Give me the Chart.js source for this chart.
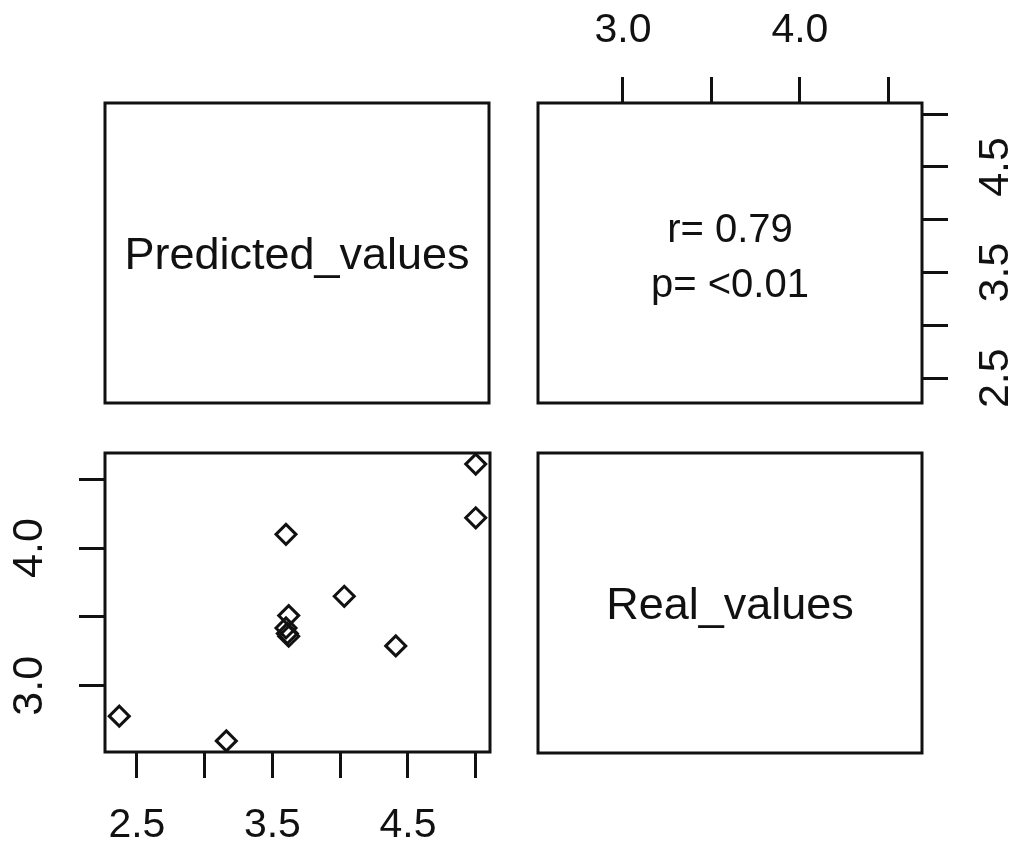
<!DOCTYPE html>
<html>
<head>
<meta charset="utf-8">
<script src="https://cdn.jsdelivr.net/npm/chart.js@4.4.1/dist/chart.umd.min.js"></script>
<style>
html,body{margin:0;padding:0;background:#fff;}
#wrap{position:relative;width:1015px;height:848px;}
#wrap canvas{position:absolute;left:0;top:0;}
</style>
</head>
<body>
<div id="wrap">
<canvas id="c-tl" width="1015" height="848"></canvas>
<canvas id="c-tr" width="1015" height="848"></canvas>
<canvas id="c-bl" width="1015" height="848"></canvas>
<canvas id="c-br" width="1015" height="848"></canvas>
</div>
<script>
// datos (pairs de R)
const predicted=[2.37,3.16,3.60,3.62,3.60,3.61,3.62,4.03,4.41,5.00,5.00]
const real=[2.78,2.60,4.10,3.51,3.42,3.38,3.36,3.65,3.29,4.61,4.22]

const predTicks=[2.5,3.0,3.5,4.0,4.5,5.0]
const predTickLabels=['2.5','','3.5','','4.5','']
const realTicks=[3.0,3.5,4.0,4.5]
const realTickLabels=['3.0','','4.0','']

const diagLabels=['Predicted_values','Real_values']
const corrLines=['r= 0.79','p= <0.01']

const FAMILY="'Liberation Sans', Arial, Helvetica, sans-serif"
Chart.defaults.font.family=FAMILY
Chart.defaults.color='#000'

// rango como R: 4% a cada lado
const padRange=arr=>{
    const lo=Math.min(...arr),hi=Math.max(...arr),d=(hi-lo)*0.04
    return [lo-d,hi+d]
}
const predRange=padRange(predicted)
const realRange=padRange(real)

// caja del panel + texto centrado
const panelPlugin={
    id:'panel',
    afterDraw(chart,args,opts){
        const {ctx,chartArea:a}=chart
        ctx.save()
        ctx.lineWidth=3
        ctx.strokeStyle='#111'
        ctx.strokeRect(a.left,a.top,a.right-a.left,a.bottom-a.top)
        if(opts.lines&&opts.lines.length){
            ctx.fillStyle='#111'
            ctx.font=opts.size+'px '+FAMILY
            ctx.textAlign='center'
            ctx.textBaseline='alphabetic'
            const cx=(a.left+a.right)/2
            const cy=(a.top+a.bottom)/2+(opts.shift||0)
            const n=opts.lines.length
            opts.lines.forEach((t,i)=>{
                const mid=cy+(i-(n-1)/2)*(opts.gap||0)
                ctx.fillText(t,cx,mid+opts.size*0.358)
            })
        }
        ctx.restore()
    }
}

const axis=(position,range,ticks,labels,size,pad,rotate)=>({
    type:'linear',
    position,
    min:range[0],
    max:range[1],
    afterBuildTicks:s=>{s.ticks=ticks.map(v=>({value:v}))},
    afterFit:s=>{ if(s.isHorizontal()) s.height=size; else s.width=size },
    grid:{drawOnChartArea:false,drawTicks:true,tickLength:26,color:'#111',lineWidth:3},
    border:{display:false},
    ticks:{
        autoSkip:false,
        padding:pad,
        font:{size:rotate?43:41},
        color:'#111',
        minRotation:rotate?90:0,
        maxRotation:rotate?90:0,
        crossAlign:rotate?'center':'near',
        callback:(v,i)=>labels[i]
    }
})

const hidden={x:{display:false,min:0,max:1},y:{display:false,min:0,max:1}}

const baseOptions=(padding,scales,panel)=>({
    responsive:false,
    animation:false,
    layout:{padding,autoPadding:false},
    scales,
    plugins:{legend:{display:false},tooltip:{enabled:false},panel}
})

// panel diagonal superior
new Chart('c-tl',{
    type:'scatter',
    data:{datasets:[{data:[]}]},
    options:baseOptions({left:105,top:103,right:526,bottom:445},hidden,{lines:[diagLabels[0]],size:45}),
    plugins:[panelPlugin]
})

// panel de correlacion con ejes arriba y derecha
new Chart('c-tr',{
    type:'scatter',
    data:{datasets:[{data:[]}]},
    options:baseOptions({left:538,top:0,right:0,bottom:445},{
        x:axis('top',realRange,realTicks,realTickLabels,103,22,false),
        y:axis('right',predRange,predTicks,predTickLabels,93,18,true)
    },{lines:corrLines,size:40,gap:55.5,shift:2}),
    plugins:[panelPlugin]
})

// dispersion
new Chart('c-bl',{
    type:'scatter',
    data:{datasets:[{
        data:predicted.map((p,i)=>({x:p,y:real[i]})),
        pointStyle:'rectRot',
        pointRadius:10,
        borderWidth:3,
        borderColor:'#111',
        backgroundColor:'rgba(0,0,0,0)'
    }]},
    options:baseOptions({left:0,top:453,right:525,bottom:6},{
        x:axis('bottom',predRange,predTicks,predTickLabels,90,23,false),
        y:axis('left',realRange,realTicks,realTickLabels,105,19,true)
    },{lines:[]}),
    plugins:[panelPlugin]
})

// panel diagonal inferior
new Chart('c-br',{
    type:'scatter',
    data:{datasets:[{data:[]}]},
    options:baseOptions({left:538,top:453,right:93,bottom:95},hidden,{lines:[diagLabels[1]],size:45}),
    plugins:[panelPlugin]
})
</script>
</body>
</html>
